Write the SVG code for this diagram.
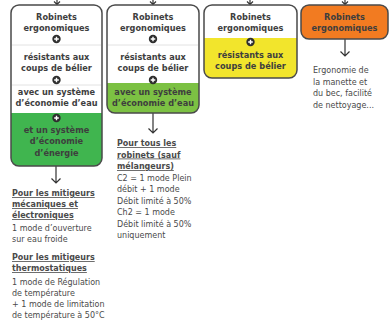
<svg xmlns="http://www.w3.org/2000/svg" width="390" height="329" viewBox="0 0 390 329">
<style>
.box{fill:none;stroke:#4a4a4a;stroke-width:1.5}
.t{font-family:"DejaVu Sans","Liberation Sans",sans-serif;font-size:8.2px;font-weight:700;fill:#3e3e3e;text-anchor:middle}
.d{font-family:"DejaVu Sans","Liberation Sans",sans-serif;font-size:8px;fill:#4a4a4a}
.h{font-weight:700;text-decoration:underline}
.sep{stroke:#e2e2e2;stroke-width:1}
.ln{stroke:#333;stroke-width:1.2;fill:none}
</style>
<defs>
<g id="plus"><circle r="4.2" fill="#2e2e2e"/><path d="M-2.3 0H2.3M0 -2.3V2.3" stroke="#fff" stroke-width="1.4"/></g>
<clipPath id="c1"><rect x="11" y="5" width="91" height="161" rx="8"/></clipPath>
<clipPath id="c2"><rect x="107" y="5" width="92" height="108" rx="8"/></clipPath>
<clipPath id="c3"><rect x="204" y="5" width="93" height="73" rx="8"/></clipPath>
</defs>
<rect width="390" height="329" fill="#fff"/>
<g id="connectors">
<path class="ln" d="M57 0V4M54 1.5L57 4.5L60 1.5"/>
<path class="ln" d="M153 0V4M150 1.5L153 4.5L156 1.5"/>
<path class="ln" d="M250 0V4M247 1.5L250 4.5L253 1.5"/>
<path class="ln" d="M345 0V4M342 1.5L345 4.5L348 1.5"/>
<path class="ln" d="M56 166V183M51.5 178.5L56 183L60.5 178.5"/>
<path class="ln" d="M153 113V133M148.5 128.5L153 133L157.5 128.5"/>
<path class="ln" d="M345 39V56M340.5 51.5L345 56L349.5 51.5"/>
</g>
<g id="box1">
<g clip-path="url(#c1)"><rect x="11" y="113" width="91" height="53" fill="#40b54f"/></g>
<line class="sep" x1="12" y1="45" x2="101" y2="45"/><line class="sep" x1="12" y1="85" x2="101" y2="85"/>
<rect class="box" x="11" y="5" width="91" height="161" rx="8"/>
<text class="t" x="56.5" y="20">Robinets</text><text class="t" x="56.5" y="31">ergonomiques</text>
<use href="#plus" x="56.5" y="39"/>
<text class="t" x="56.5" y="60">résistants aux</text><text class="t" x="56.5" y="71">coups de bélier</text>
<use href="#plus" x="56.5" y="80"/>
<text class="t" x="56.5" y="95">avec un système</text><text class="t" x="56.5" y="106">d’économie d’eau</text>
<use href="#plus" x="56.5" y="118"/>
<text class="t" x="56.5" y="133">et un système</text><text class="t" x="56.5" y="144">d’économie</text><text class="t" x="56.5" y="156">d’énergie</text>
</g>
<g id="box2">
<g clip-path="url(#c2)"><rect x="107" y="83" width="92" height="30" fill="#7cc143"/></g>
<line class="sep" x1="108" y1="45" x2="198" y2="45"/>
<rect class="box" x="107" y="5" width="92" height="108" rx="8"/>
<text class="t" x="153" y="20">Robinets</text><text class="t" x="153" y="31">ergonomiques</text>
<use href="#plus" x="153" y="39"/>
<text class="t" x="153" y="60">résistants aux</text><text class="t" x="153" y="71">coups de bélier</text>
<use href="#plus" x="153" y="80"/>
<text class="t" x="153" y="95">avec un système</text><text class="t" x="153" y="106">d’économie d’eau</text>
</g>
<g id="box3">
<g clip-path="url(#c3)"><rect x="204" y="38" width="93" height="40" fill="#f2e52c"/></g>
<rect class="box" x="204" y="5" width="93" height="73" rx="8"/>
<text class="t" x="250.5" y="20">Robinets</text><text class="t" x="250.5" y="31">ergonomiques</text>
<use href="#plus" x="250.5" y="42"/>
<text class="t" x="250.5" y="58">résistants aux</text><text class="t" x="250.5" y="69">coups de bélier</text>
</g>
<g id="box4">
<rect class="box" x="301" y="5" width="87" height="34" rx="8" style="fill:#f27b21"/>
<text class="t" x="344.5" y="20">Robinets</text><text class="t" x="344.5" y="31">ergonomiques</text>
</g>
<g id="notes1">
<text class="d"><tspan class="h" x="12" y="196">Pour les mitigeurs</tspan><tspan class="h" x="12" y="207">mécaniques et</tspan><tspan class="h" x="12" y="218">électroniques</tspan><tspan x="12" y="231">1 mode d’ouverture</tspan><tspan x="12" y="242">sur eau froide</tspan><tspan class="h" x="12" y="260">Pour les mitigeurs</tspan><tspan class="h" x="12" y="271">thermostatiques</tspan><tspan x="12" y="285">1 mode de Régulation</tspan><tspan x="12" y="296">de température</tspan><tspan x="12" y="307">+ 1 mode de limitation</tspan><tspan x="12" y="318">de température à 50°C</tspan></text>
</g>
<g id="notes2">
<text class="d"><tspan class="h" x="117" y="146">Pour tous les</tspan><tspan class="h" x="117" y="157.5">robinets (sauf</tspan><tspan class="h" x="117" y="169">mélangeurs)</tspan><tspan x="117" y="180.5">C2 = 1 mode Plein</tspan><tspan x="117" y="192">débit + 1 mode</tspan><tspan x="117" y="203.5">Débit limité à 50%</tspan><tspan x="117" y="215">Ch2 = 1 mode</tspan><tspan x="117" y="226.5">Débit limité à 50%</tspan><tspan x="117" y="238">uniquement</tspan></text>
</g>
<g id="notes4">
<text class="d"><tspan x="313" y="73">Ergonomie de</tspan><tspan x="313" y="84.5">la manette et</tspan><tspan x="313" y="96">du bec, facilité</tspan><tspan x="313" y="107.5">de nettoyage...</tspan></text>
</g>
</svg>
